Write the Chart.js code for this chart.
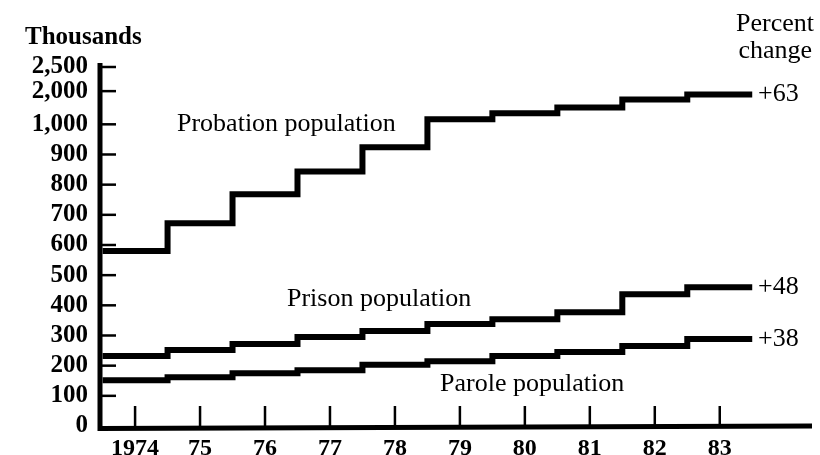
<!DOCTYPE html>
<html>
<head>
<meta charset="utf-8">
<script src="https://cdn.jsdelivr.net/npm/chart.js@4/dist/chart.umd.min.js"></script>
<style>
  html, body { margin: 0; padding: 0; background: #fff; }
  #wrap { width: 820px; height: 455px; position: relative; }
</style>
</head>
<body>
<div id="wrap"><canvas id="chart"></canvas></div>
<script>
// values in thousands
const years = [1974, 1975, 1976, 1977, 1978, 1979, 1980, 1981, 1982, 1983];
const yearLabels = ['1974', '75', '76', '77', '78', '79', '80', '81', '82', '83'];
const probation = [580, 672, 768, 844, 924, 1155, 1330, 1510, 1750, 1900];
const prison = [232, 252, 272, 295, 315, 338, 354, 377, 437, 460];
const parole = [152, 162, 175, 185, 203, 215, 232, 245, 265, 288];
const seriesNames = ['Probation population', 'Prison population', 'Parole population'];
const percentChange = ['+63', '+48', '+38'];
const yTicks = [0, 100, 200, 300, 400, 500, 600, 700, 800, 900, 1000, 2000, 2500];

const FONT = '"Liberation Serif", "Times New Roman", serif';

// broken scale: 100 per step up to 1,000, then squeezed
function toAxis(v) {
    if (v <= 1000) return v / 100;
    if (v <= 2000) return 10 + (v - 1000) / 1000 * 1.1;
    return 11.1 + (v - 2000) / 500 * 0.8;
}

function steps(values) {
    const pts = values.map((v, i) => ({ x: years[i] - 0.5, y: toAxis(v) }));
    pts.push({ x: years[years.length - 1] + 0.5, y: toAxis(values[values.length - 1]) });
    return pts;
}

function lineSet(values) {
    return {
        data: steps(values),
        stepped: true,
        borderColor: '#000',
        borderWidth: 6,
        borderJoinStyle: 'miter',
        borderCapStyle: 'butt',
        pointRadius: 0,
        fill: false
    };
}

const axesAndText = {
    id: 'axesAndText',
    afterDatasetsDraw(chart) {
        const ctx = chart.ctx;
        const xs = chart.scales.x;
        const ys = chart.scales.y;
        const area = chart.chartArea;
        ctx.save();
        ctx.strokeStyle = '#000';
        ctx.lineCap = 'butt';

        // axis lines
        ctx.lineWidth = 5;
        ctx.beginPath();
        ctx.moveTo(area.left, area.top - 4);
        ctx.lineTo(area.left, area.bottom + 2.5);
        ctx.lineTo(area.right, area.bottom);
        ctx.stroke();

        // inward tick marks
        ctx.lineWidth = 2.5;
        yTicks.forEach(v => {
            if (v === 0) return;
            const y = ys.getPixelForValue(toAxis(v));
            ctx.beginPath();
            ctx.moveTo(area.left, y);
            ctx.lineTo(area.left + 16, y);
            ctx.stroke();
        });
        years.forEach(yr => {
            const x = xs.getPixelForValue(yr);
            ctx.beginPath();
            ctx.moveTo(x, area.bottom);
            ctx.lineTo(x, area.bottom - 20);
            ctx.stroke();
        });

        ctx.fillStyle = '#000';
        ctx.textBaseline = 'middle';
        ctx.font = 'bold 25px ' + FONT;
        ctx.textAlign = 'left';
        ctx.fillText('Thousands', 25, 38);

        ctx.font = '26px ' + FONT;
        ctx.textAlign = 'right';
        ctx.fillText('Percent', 814, 24);
        ctx.fillText('change', 812, 51);

        ctx.textAlign = 'left';
        ctx.fillText(seriesNames[0], 177, 124);
        ctx.fillText(seriesNames[1], 287, 299);
        ctx.fillText(seriesNames[2], 440, 384);

        const last = [probation, prison, parole].map(s => s[s.length - 1]);
        last.forEach((v, i) => {
            ctx.fillText(percentChange[i], 758, ys.getPixelForValue(toAxis(v)));
        });
        ctx.restore();
    }
};

new Chart(document.getElementById('chart'), {
    type: 'line',
    data: {
        datasets: [lineSet(probation), lineSet(prison), lineSet(parole)]
    },
    options: {
        responsive: true,
        maintainAspectRatio: false,
        animation: false,
        layout: { padding: { top: 67, right: 8, left: 0, bottom: 0 } },
        plugins: {
            legend: { display: false },
            tooltip: { enabled: false }
        },
        scales: {
            x: {
                type: 'linear',
                min: 1973.46,
                max: 1984.42,
                grid: { display: false, drawTicks: false },
                border: { display: false },
                afterBuildTicks: scale => {
                    scale.ticks = years.map(y => ({ value: y }));
                },
                afterFit: scale => { scale.height = 29; },
                ticks: {
                    autoSkip: false,
                    maxRotation: 0,
                    padding: 8,
                    color: '#000',
                    font: { family: FONT, size: 24, weight: 'bold' },
                    callback: (val, i) => yearLabels[i]
                }
            },
            y: {
                min: 0,
                max: toAxis(2500),
                grid: { display: false, drawTicks: false },
                border: { display: false },
                afterBuildTicks: scale => {
                    scale.ticks = yTicks.map(v => ({ value: toAxis(v) }));
                },
                afterFit: scale => { scale.width = 100; },
                ticks: {
                    autoSkip: false,
                    padding: 12,
                    color: '#000',
                    font: { family: FONT, size: 25, weight: 'bold' },
                    callback: (val, i) => yTicks[i].toLocaleString('en-US')
                }
            }
        }
    },
    plugins: [axesAndText]
});
</script>
</body>
</html>
